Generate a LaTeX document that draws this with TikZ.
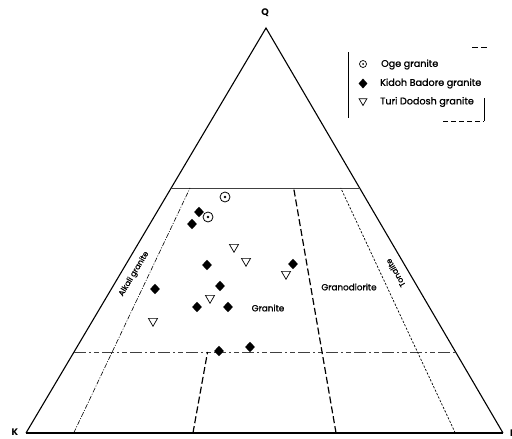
\documentclass[tikz,border=0pt]{standalone}
\usepackage{fontspec}
\setmainfont{Poppins}
\newfontfamily\heavy{Poppins}[FakeBold=1.2]
\usetikzlibrary{calc,shapes.geometric}
\begin{document}
\begin{tikzpicture}[x=1pt,y=-1pt,
  edge/.style={line width=1.1pt},
  ddline/.style={line width=0.6pt, dash pattern=on 5pt off 1.5pt on 1pt off 1.5pt},
  longdash/.style={line width=1.2pt, dash pattern=on 7pt off 3pt},
  finedash/.style={line width=0.7pt, dash pattern=on 2.2pt off 1.6pt},
  qline/.style={line width=0.6pt, black!75},
  qdash/.style={line width=0.6pt, black!75, dash pattern=on 12pt off 3pt on 2pt off 3pt on 5pt off 3pt},
  lab/.style={font=\heavy\fontsize{8.8}{10}\selectfont, inner sep=0},
  slab/.style={font=\heavy\fontsize{7.8}{9}\selectfont, inner sep=0},
  leg/.style={font=\heavy\fontsize{9.6}{11}\selectfont, inner sep=0, anchor=west},
  corner/.style={font=\fontsize{9.5}{10}\selectfont\bfseries, inner sep=0},
  dia/.style={diamond, fill=black, inner sep=0, minimum width=10pt, minimum height=10.5pt},
  tri/.style={regular polygon, regular polygon sides=3, shape border rotate=180, draw, line width=0.7pt, inner sep=0, minimum size=10.5pt},
  ogec/.style={circle, draw, line width=0.8pt, inner sep=0, minimum size=10pt},
]
\useasboundingbox (0,0) rectangle (512,439);
% corners
\coordinate (K) at (26,433);
\coordinate (R) at (503,433);
\coordinate (Q) at (266,28);
\draw[edge, line join=miter] (K) -- (Q) -- (R);
\draw[line width=1.4pt] (K) -- (R);
\node[corner] (lq) at (265,13) {Q};
\node[corner] (lk) at (15,432.5) {K};
\node[corner, anchor=west] (lp) at (510,433) {P};
% base points of the ratio lines
\coordinate (b10) at ($(K)!0.10!(R)$);
\coordinate (b35) at ($(K)!0.35!(R)$);
\coordinate (b65) at ($(K)!0.65!(R)$);
\coordinate (b90) at ($(K)!0.90!(R)$);
\coordinate (t10) at ($(b10)!0.605!(Q)$);
\coordinate (m35) at ($(b35)!0.2!(Q)$);
\coordinate (t65) at ($(b65)!0.605!(Q)$);
\coordinate (t90) at ($(b90)!0.605!(Q)$);
% Q = 60 and Q = 20 lines
\coordinate (l60) at ($(K)!0.605!(Q)$);
\coordinate (r60) at ($(R)!0.605!(Q)$);
\coordinate (l20) at ($(K)!0.2!(Q)$);
\coordinate (r20) at ($(R)!0.2!(Q)$);
\draw[qline] (l60) -- (r60);
\draw[qdash] (l20) -- (r20);
% dividing lines
\draw[ddline] (b10) -- (t10);
\draw[longdash] (b35) -- (m35);
\draw[longdash] (b65) -- (t65);
\draw[finedash] (b90) -- (t90);
% field labels
\node[slab, rotate=59] (alk) at (134,274) {Alkali granite};
\node[lab] (gra) at (268,308) {Granite};
\node[lab] (grd) at (349,287) {Granodiorite};
\node[slab, rotate=120] (ton) at (395.5,273) {Tonalite};
% Oge granite
\node[ogec] (o1) at (225,197) {}; \fill (o1.center) circle (1.3pt);
\node[ogec] (o2) at (208,217) {}; \fill (o2.center) circle (1.3pt);
% Kidoh Badore granite
\foreach \n/\p in {d1/{(199,212)}, d2/{(192,224)}, d3/{(207,265)}, d4/{(155,289)},
  d5/{(220,286)}, d6/{(197,307)}, d7/{(228,307)}, d8/{(219,351)}, d9/{(250,347)}, d10/{(293,264)}}
  \node[dia] (\n) at \p {};
% Turi Dodosh granite
\foreach \n/\p in {t1/{(234,247)}, t2/{(246,261)}, t3/{(210,298)}, t4/{(153,321)}, t5/{(286,274)}}
  \node[tri] (\n) at \p {};
% legend
\draw[line width=0.6pt] (348,52) -- (348,118);
\draw[line width=0.6pt, dash pattern=on 6pt off 3pt] (472,47) -- (490,47);
\draw[line width=0.6pt] (484,98) -- (484,121);
\draw[line width=0.6pt, dash pattern=on 5pt off 3pt] (443,121) -- (484,121);
\node[ogec, minimum size=7pt, line width=0.7pt] (lo) at (363,64) {}; \fill (lo.center) circle (1pt);
\node[dia, minimum width=9pt, minimum height=10pt] (ld) at (363,83.5) {};
\node[tri, minimum size=9pt] (lt) at (363,101) {};
\node[leg] (to) at (381,64.5) {Oge granite};
\node[leg] (td) at (380,83.5) {Kidoh Badore granite};
\node[leg] (tt) at (380,102) {Turi Dodosh granite};
\end{tikzpicture}
\end{document}
